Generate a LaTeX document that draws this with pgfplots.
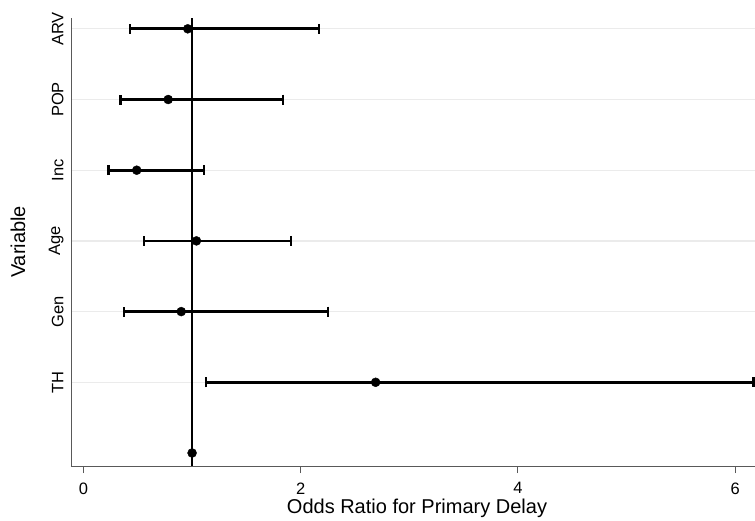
\documentclass[border=0pt]{standalone}
\usepackage{fontspec}
\setmainfont{Liberation Sans}
\usepackage{pgfplots}
\usepackage{pgfplotstable}
\pgfplotsset{compat=1.18}

% odds ratios with 95% CI, y = row position
\pgfplotstableread{
y est lo hi
6 0.96 0.43 2.17
5 0.78 0.34 1.84
4 0.49 0.23 1.11
3 1.04 0.56 1.91
2 0.90 0.37 2.25
1 2.69 1.13 6.17
}\ordata

\begin{document}
\begin{tikzpicture}
\begin{axis}[name=ax,
  scale only axis, width=684bp, height=448bp,
  xmin=-0.115, xmax=6.183, ymin=-0.184, ymax=6.153,
  axis lines=left, axis line style={draw=black!65, line width=0.9bp, -},
  xtick={0,2,4,6}, tick align=outside, major tick length=7bp,
  x tick style={draw=black!65, line width=0.9bp},
  ytick={1,2,3,4,5,6}, yticklabels={TH,Gen,Age,Inc,POP,ARV},
  y tick style={draw=none},
  ymajorgrids, grid style={draw=black!8, line width=1.2bp},
  tick label style={font=\fontsize{16.5bp}{19bp}\selectfont},
  /pgf/number format/assume math mode=true,
  yticklabel style={rotate=90, anchor=south, yshift=-3bp},
  xticklabel style={anchor=north, yshift=-6bp},
  label style={font=\fontsize{20bp}{24bp}\selectfont},
  xlabel={Odds Ratio for Primary Delay},
  ylabel={Variable},
  xlabel style={at={(axis description cs:0.5,0)}, anchor=base, yshift=-47bp, xshift=4bp},
  ylabel style={at={(axis description cs:0,0.5)}, anchor=center, yshift=53bp},
]
\addplot[black, line width=1.7bp] coordinates {(1,-0.184) (1,6.153)};
\addplot[black, mark=*, mark size=4.5bp, only marks,
  error bars/.cd, x dir=both, x explicit,
  error mark=|, error mark options={line width=2.2bp, mark size=5bp, black},
  error bar style={line width=2.8bp, black}]
  table[x=est, y=y, x error plus expr=\thisrow{hi}-\thisrow{est},
        x error minus expr=\thisrow{est}-\thisrow{lo}] {\ordata};
\addplot[black, mark=*, mark size=4.5bp, only marks] coordinates {(1,0)};
\end{axis}
\pgfresetboundingbox
\path[use as bounding box] ([xshift=-71bp, yshift=-55bp]ax.south west) rectangle ([yshift=18bp]ax.north east);
\end{tikzpicture}
\end{document}
